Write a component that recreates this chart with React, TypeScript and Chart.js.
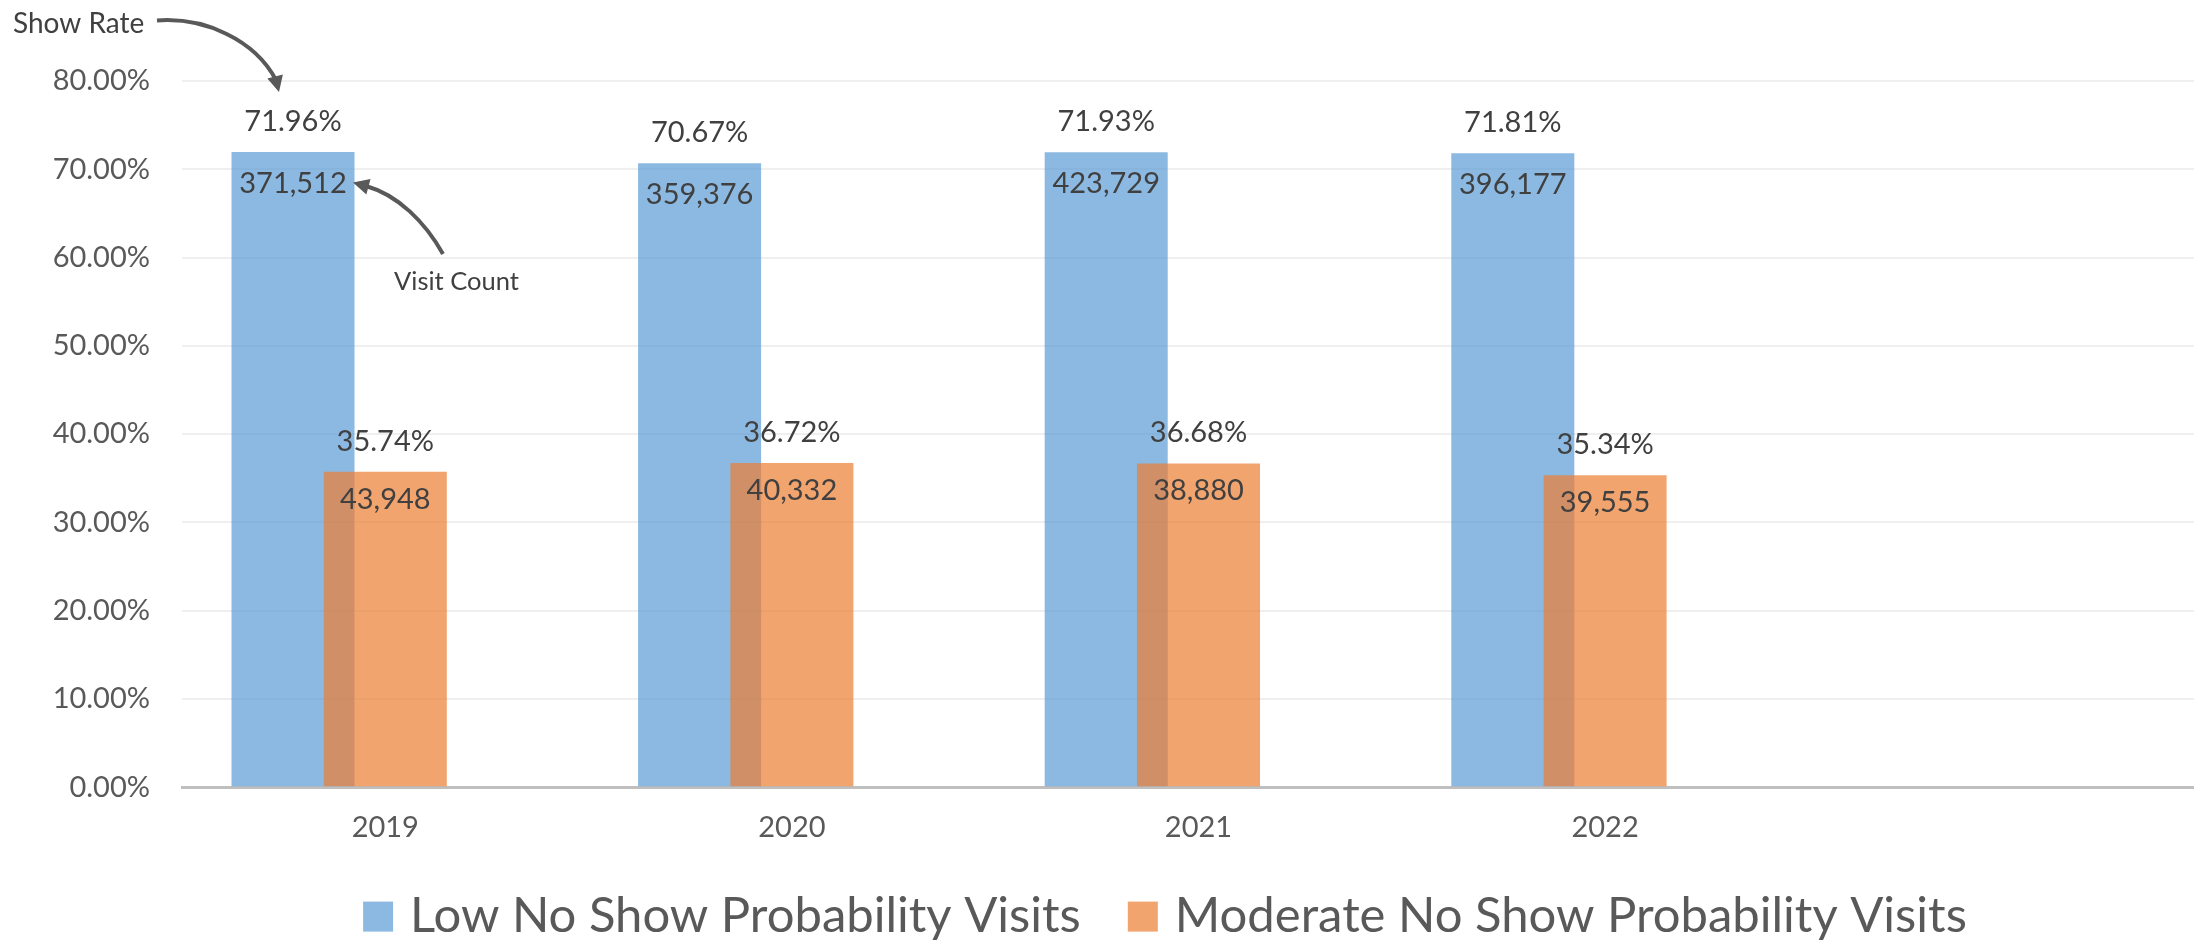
import { useEffect, useRef } from 'react';
import { Chart, registerables } from 'chart.js';

Chart.register(...registerables);

const categories = ['2019', '2020', '2021', '2022', ''];
const lowShowRate: (number | null)[] = [71.96, 70.67, 71.93, 71.81, null];
const moderateShowRate: (number | null)[] = [35.74, 36.72, 36.68, 35.34, null];
const lowVisitCount: (number | null)[] = [371512, 359376, 423729, 396177, null];
const moderateVisitCount: (number | null)[] = [43948, 40332, 38880, 39555, null];
const seriesNames = ['Low No Show Probability Visits', 'Moderate No Show Probability Visits'];
const annotationShowRate = 'Show Rate';
const annotationVisitCount = 'Visit Count';

const FONT = 'Lato, "Open Sans", sans-serif';
const BLUE = 'rgba(91,155,213,0.7)';
const ORANGE = 'rgba(237,125,49,0.7)';
const AXIS_TEXT = '#595959';
const LABEL_TEXT = '#404040';

function drawArrowHead(ctx: CanvasRenderingContext2D, tipX: number, tipY: number, angle: number, len: number, half: number) {
  ctx.beginPath();
  ctx.moveTo(tipX, tipY);
  ctx.lineTo(tipX - len * Math.cos(angle) + half * Math.sin(angle), tipY - len * Math.sin(angle) - half * Math.cos(angle));
  ctx.lineTo(tipX - len * Math.cos(angle) - half * Math.sin(angle), tipY - len * Math.sin(angle) + half * Math.cos(angle));
  ctx.closePath();
  ctx.fill();
}

const overlayPlugin = {
  id: 'overlay',
  // Draw the first series underneath the second so the overlap tints correctly.
  beforeDatasetDraw(chart: any, args: any) {
    if (args.index === 0) return false;
    if (args.index === 1) {
      chart.getDatasetMeta(0).controller.draw();
    }
    return true;
  },
  afterDatasetsDraw(chart: any) {
    const ctx: CanvasRenderingContext2D = chart.ctx;
    ctx.save();
    ctx.font = `29px ${FONT}`;
    ctx.fillStyle = LABEL_TEXT;
    ctx.textAlign = 'center';
    ctx.textBaseline = 'alphabetic';
    const sets = [
      { rates: lowShowRate, counts: lowVisitCount, below: 41 },
      { rates: moderateShowRate, counts: moderateVisitCount, below: 37 },
    ];
    sets.forEach((s, di) => {
      const meta = chart.getDatasetMeta(di);
      meta.data.forEach((bar: any, i: number) => {
        const r = s.rates[i];
        const c = s.counts[i];
        if (r == null) return;
        ctx.fillText(r.toFixed(2) + '%', bar.x, bar.y - 21);
        if (c != null) ctx.fillText(c.toLocaleString('en-US'), bar.x, bar.y + s.below);
      });
    });
    ctx.restore();
  },
  afterDraw(chart: any) {
    const ctx: CanvasRenderingContext2D = chart.ctx;
    const area = chart.chartArea;
    ctx.save();
    // legend
    ctx.font = `49px ${FONT}`;
    ctx.textBaseline = 'alphabetic';
    ctx.textAlign = 'left';
    const w1 = ctx.measureText(seriesNames[0]).width;
    const w2 = ctx.measureText(seriesNames[1]).width;
    const box = 30;
    const gap = 17;
    const between = 47;
    const total = box + gap + w1 + between + box + gap + w2;
    const cy = area.bottom + 129.4;
    let x = 1165 - total / 2;
    const colors = [BLUE, ORANGE];
    [w1, w2].forEach((w, i) => {
      ctx.fillStyle = colors[i];
      ctx.fillRect(x, cy - box / 2, box, box);
      ctx.fillStyle = AXIS_TEXT;
      ctx.fillText(seriesNames[i], x + box + gap, cy + box / 2);
      x += box + gap + w + between;
    });

    // annotations
    ctx.fillStyle = '#404040';
    ctx.font = `28px ${FONT}`;
    ctx.fillText(annotationShowRate, 13, 33);
    ctx.font = `25.5px ${FONT}`;
    ctx.fillText(annotationVisitCount, 394, 290);

    ctx.strokeStyle = '#595959';
    ctx.fillStyle = '#595959';
    ctx.lineWidth = 4;
    ctx.lineCap = 'butt';
    // show rate arrow
    ctx.beginPath();
    ctx.moveTo(157, 20.5);
    ctx.bezierCurveTo(205, 17, 255, 40, 276, 80);
    ctx.stroke();
    drawArrowHead(ctx, 279, 92, Math.atan2(12, 3), 16, 8);
    // visit count arrow
    ctx.beginPath();
    ctx.moveTo(443, 254);
    ctx.bezierCurveTo(425, 222, 398, 195, 366, 186);
    ctx.stroke();
    drawArrowHead(ctx, 353, 182.5, Math.atan2(-3.5, -13), 16, 8);
    ctx.restore();
  },
};

export default function App() {
  const canvasRef = useRef<HTMLCanvasElement | null>(null);

  useEffect(() => {
    const canvas = canvasRef.current;
    if (!canvas) return;
    const chart = new Chart(canvas, {
      type: 'bar',
      data: {
        labels: categories,
        datasets: [
          {
            label: seriesNames[0],
            data: lowShowRate,
            backgroundColor: BLUE,
            categoryPercentage: 0.681,
            barPercentage: 1.333,
          },
          {
            label: seriesNames[1],
            data: moderateShowRate,
            backgroundColor: ORANGE,
            categoryPercentage: 0.681,
            barPercentage: 1.333,
          },
          {
            label: '',
            data: categories.map(() => null),
            backgroundColor: 'rgba(0,0,0,0)',
            categoryPercentage: 0.681,
            barPercentage: 1.333,
          },
        ],
      } as any,
      options: {
        responsive: false,
        animation: false,
        layout: { padding: { top: 81, left: 52, right: 1, bottom: 73 } },
        plugins: { legend: { display: false }, tooltip: { enabled: false } },
        scales: {
          x: {
            grid: { display: false, drawTicks: false },
            border: { display: true, color: '#BFBFBF', width: 3 },
            ticks: { color: AXIS_TEXT, font: { family: FONT, size: 29 }, padding: 23 },
          },
          y: {
            min: 0,
            max: 80,
            ticks: {
              stepSize: 10,
              color: AXIS_TEXT,
              font: { family: FONT, size: 29 },
              padding: 32,
              callback: (v: any) => Number(v).toFixed(2) + '%',
            },
            grid: { color: '#EFEFEF', lineWidth: 2, drawTicks: false },
            border: { display: false },
            afterFit: (s: any) => {
              s.width = 130;
            },
          },
        },
      } as any,
      plugins: [overlayPlugin],
    });
    return () => chart.destroy();
  }, []);

  return (
    <div
      style={{
        position: 'fixed',
        left: 0,
        top: 0,
        width: 2194,
        height: 941,
        overflow: 'hidden',
        background: '#ffffff',
      }}
    >
      <canvas ref={canvasRef} width={2216} height={941} style={{ display: 'block' }} />
    </div>
  );
}
